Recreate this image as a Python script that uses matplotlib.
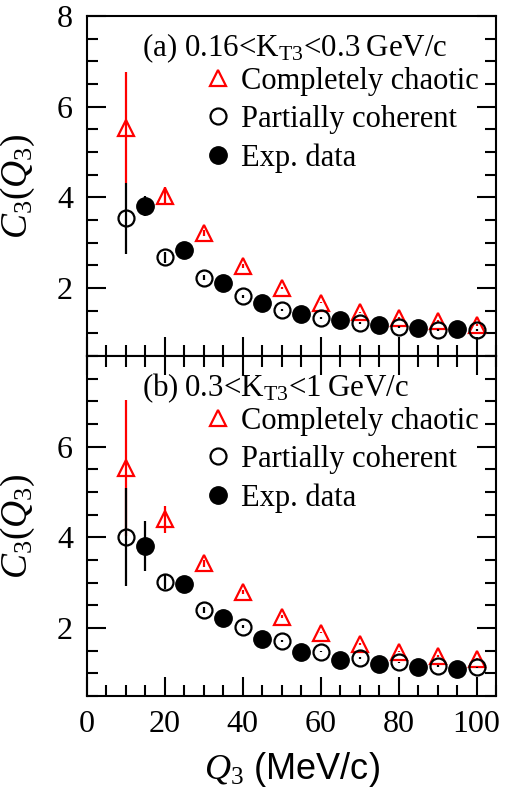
import matplotlib
matplotlib.use("Agg")
import matplotlib.pyplot as plt
from matplotlib.lines import Line2D
from matplotlib.ticker import MultipleLocator

plt.rcParams['font.family'] = ['Liberation Serif', 'DejaVu Serif']
plt.rcParams['mathtext.fontset'] = 'custom'
plt.rcParams['mathtext.rm'] = 'Liberation Serif'
plt.rcParams['mathtext.it'] = 'Liberation Serif:italic'
plt.rcParams['mathtext.bf'] = 'Liberation Serif:bold'

# ---- data ----
q_model = [10, 20, 30, 40, 50, 60, 70, 80, 90, 100]
q_exp = [15, 25, 35, 45, 55, 65, 75, 85, 95]

# panel (a) 0.16 < KT3 < 0.3
a_chaotic = [5.54, 4.02, 3.21, 2.48, 2.00, 1.68, 1.46, 1.34, 1.27, 1.19]
a_chaotic_err = [1.23, 0.20, 0.07, 0.04, 0.03, 0.02, 0.02, 0.02, 0.02, 0.02]
a_coherent = [3.54, 2.68, 2.23, 1.82, 1.51, 1.34, 1.23, 1.14, 1.08, 1.08]
a_coherent_err = [0.78, 0.12, 0.06, 0.03, 0.02, 0.02, 0.02, 0.02, 0.02, 0.02]
a_exp = [3.80, 2.83, 2.10, 1.67, 1.43, 1.29, 1.19, 1.12, 1.10]
a_exp_err = [0.22, 0.05, 0.03, 0.02, 0.02, 0.02, 0.02, 0.02, 0.02]

# panel (b) 0.3 < KT3 < 1
b_chaotic = [5.52, 4.40, 3.43, 2.80, 2.25, 1.90, 1.65, 1.48, 1.38, 1.31]
b_chaotic_err = [1.50, 0.30, 0.08, 0.04, 0.03, 0.02, 0.02, 0.02, 0.02, 0.02]
b_coherent = [4.00, 3.02, 2.40, 2.03, 1.72, 1.48, 1.33, 1.24, 1.16, 1.13]
b_coherent_err = [1.08, 0.15, 0.06, 0.03, 0.02, 0.02, 0.02, 0.02, 0.02, 0.02]
b_exp = [3.81, 2.96, 2.21, 1.75, 1.46, 1.29, 1.21, 1.13, 1.10]
b_exp_err = [0.55, 0.06, 0.03, 0.02, 0.02, 0.02, 0.02, 0.02, 0.02]

titles = ["(a) 0.16<K$_{\\rm T3}$<0.3\u2009GeV/c",
          "(b)\u20090.3<K$_{\\rm T3}$<1\u2009GeV/c"]
legend_labels = ["Completely chaotic", "Partially coherent", "Exp. data"]
xticks = [0, 20, 40, 60, 80, 100]

FS = 22
fig = plt.figure(figsize=(5.07, 7.91), dpi=100)
L, R = 87 / 507, 496 / 507
ax_a = fig.add_axes([L, 1 - 356 / 791, R - L, 340 / 791])
ax_b = fig.add_axes([L, 1 - 696 / 791, R - L, 340 / 791], sharex=ax_a)

panels = [
    (ax_a, a_chaotic, a_chaotic_err, a_coherent, a_coherent_err, a_exp, a_exp_err, [2, 4, 6, 8]),
    (ax_b, b_chaotic, b_chaotic_err, b_coherent, b_coherent_err, b_exp, b_exp_err, [2, 4, 6]),
]

red = '#ff0000'
for i, (ax, ch, che, co, coe, ex, exe, yt) in enumerate(panels):
    ax.errorbar(q_exp, ex, yerr=exe, fmt='o', color='black', ms=12.5, elinewidth=1.6, capsize=0, zorder=3)
    ax.errorbar(q_model, co, yerr=coe, fmt='o', color='black', mfc='none', mec='black', ms=11.5, mew=1.6,
                elinewidth=1.6, capsize=0, zorder=3)
    ax.errorbar(q_model, ch, yerr=che, fmt='^', color=red, mfc='none', mec=red, ms=12, mew=1.6,
                elinewidth=1.6, capsize=0, zorder=2)
    ax.set_xlim(0, 105)
    ax.set_ylim(0.5, 8)
    ax.set_xticks(xticks)
    ax.xaxis.set_minor_locator(MultipleLocator(5))
    ax.set_yticks(yt)
    ax.yaxis.set_minor_locator(MultipleLocator(0.5))
    ax.tick_params(which='both', direction='in', width=1.5, left=True, right=True, bottom=True,
                   top=(i == 1), labelsize=23, pad=10)
    ax.tick_params(which='major', length=14)
    ax.tick_params(which='minor', length=8)
    for s in ax.spines.values():
        s.set_linewidth(1.5)
    ax.set_ylabel(r"$C_3(Q_3)$", fontsize=27)
    ax.yaxis.set_label_coords(-0.122, 0.5)
    ax.text(0.134, 0.906, titles[i], transform=ax.transAxes, fontsize=22.3, va='center', ha='left')
    handles = [
        Line2D([], [], ls='none', marker='^', ms=12, mfc='none', mec=red, mew=1.6),
        Line2D([], [], ls='none', marker='o', ms=11.5, mfc='none', mec='black', mew=1.6),
        Line2D([], [], ls='none', marker='o', ms=12.5, color='black'),
    ]
    ax.legend(handles, legend_labels, loc='upper left', bbox_to_anchor=(0.29, 0.85), frameon=False,
              fontsize=FS, handlelength=0.8, handletextpad=0.35, labelspacing=0.3,
              borderpad=0, borderaxespad=0)

ax_a.tick_params(labelbottom=False)
ax_b.set_xlabel(r"$Q_3$ (MeV/c)", fontsize=26, family='Liberation Sans')
ax_b.xaxis.set_label_coords(0.5, -0.16)

fig.savefig("out.png", dpi=100)
